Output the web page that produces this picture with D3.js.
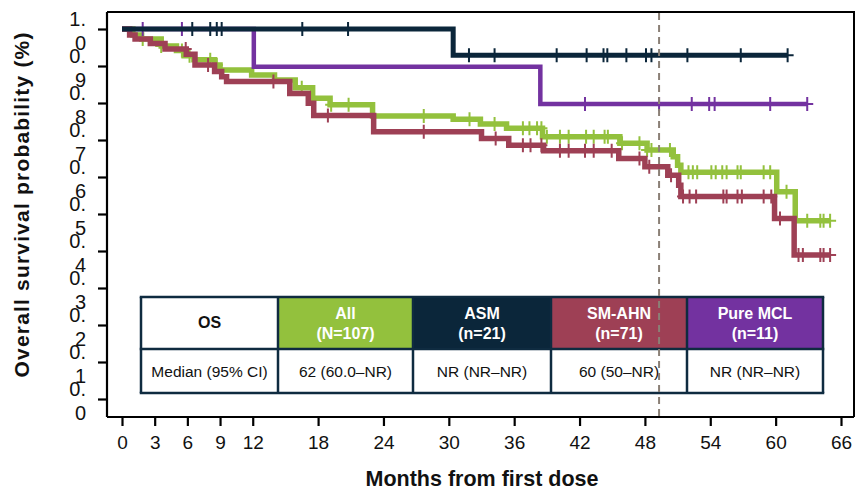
<!DOCTYPE html>
<html><head><meta charset="utf-8">
<script src="https://cdn.jsdelivr.net/npm/d3@7"></script>
<style>body{margin:0;background:#fff}svg{display:block;font-family:"Liberation Sans",Arial,sans-serif}</style>
</head><body><svg id="c" width="857" height="490"></svg>
<script>
// ---- data ----
const xTicks = [0,3,6,9,12,18,24,30,36,42,48,54,60,66];
const yTicks = [0,0.1,0.2,0.3,0.4,0.5,0.6,0.7,0.8,0.9,1.0];
const yTickLabels = ["0.0","0.1","0.2","0.3","0.4","0.5","0.6","0.7","0.8","0.9","1.0"];
const cutoffMonth = 49.3;

const allTimes = [0,1.0,1.8,3.6,5.0,5.7,6.6,8.5,9.0,11.9,14.0,15.9,17.5,19.1,23.0,30.4,32.9,35.3,38.6,45.7,48.2,50.6,51.0,51.3,60.1,61.8];
const allSurv  = [1.0,0.984,0.973,0.954,0.942,0.928,0.917,0.903,0.889,0.876,0.862,0.841,0.813,0.795,0.765,0.756,0.743,0.732,0.709,0.691,0.673,0.655,0.632,0.613,0.560,0.482];
const allEnd = 65.0;
const allCensor = [1.9,3.6,5.5,6.2,8.1,8.7,16.5,19.2,20.8,27.7,31.9,34.2,36.8,37.4,38.1,38.5,39.0,40.2,41.0,42.6,43.3,44.3,44.6,45.9,47.5,48.2,48.6,50.3,52.0,52.4,52.8,54.1,54.5,55.1,55.5,56.5,56.8,58.9,59.5,61.0,62.9,64.1,64.4,65.0];

const ahnTimes = [0,0.7,1.2,2.6,3.95,5.9,6.7,8.5,9.15,9.6,15.4,17.1,17.6,23.1,33.0,35.5,38.7,45.6,48.0,50.1,51.1,51.3,59.9,61.7];
const ahnSurv  = [1.0,0.984,0.973,0.961,0.946,0.932,0.903,0.885,0.871,0.858,0.826,0.799,0.766,0.722,0.704,0.686,0.671,0.650,0.628,0.605,0.578,0.547,0.488,0.389];
const ahnEnd = 65.0;
const ahnCensor = [5.85,7.9,13.9,18.9,27.7,34.3,36.8,37.5,38.5,40.2,41.0,42.5,43.3,44.95,47.5,48.4,50.4,51.5,52.1,52.7,55.2,55.5,56.5,56.9,58.9,59.6,60.4,62.1,62.5,64.1,64.4,65.0];

const mclTimes = [0,12.1,38.4];
const mclSurv  = [1.0,0.898,0.797];
const mclEnd = 62.9;
const mclCensor = [1.9,5.5,42.5,49.3,52.3,53.9,54.4,59.5,62.9];

const asmTimes = [0,30.4];
const asmSurv  = [1.0,0.929];
const asmEnd = 61.1;
const asmCensor = [6.45,8.1,8.7,9.15,16.55,20.75,31.85,34.2,39.9,42.65,44.2,44.55,46.3,48.1,48.6,51.9,56.8,61.1];

const tableHeader = [["OS"],["All","(N=107)"],["ASM","(n=21)"],["SM-AHN","(n=71)"],["Pure MCL","(n=11)"]];
const tableRow = ["Median (95% CI)","62 (60.0\u2013NR)","NR (NR\u2013NR)","60 (50\u2013NR)","NR (NR\u2013NR)"];

// ---- styles ----
const C = {all:"#93c13d", asm:"#0b263a", ahn:"#9e4055", mcl:"#7332a0", dash:"#8b8076", border:"#0f2b40"};

const svg = d3.select("#c");
const x = d3.scaleLinear().domain([0,66]).range([122,841]);
const y = d3.scaleLinear().domain([0,1]).range([399,29]);
const pL=107, pR=854, pT=12, pB=417;

// frame
svg.append("path").attr("d",`M${pL},${pT}H${pR}V${pB}`).attr("fill","none").attr("stroke","#000").attr("stroke-width",2);

// x axis
const xAxis = d3.axisBottom(x).tickValues(xTicks).tickSize(9).tickSizeOuter(0).tickPadding(10);
const gx = svg.append("g").attr("transform",`translate(0,${pB})`).call(xAxis);
gx.select(".domain").attr("d",`M${pL},0H${pR}`).attr("stroke","#000").attr("stroke-width",2.2);
gx.selectAll(".tick line").attr("stroke","#000").attr("stroke-width",2.2);
gx.selectAll(".tick text").attr("font-size",19).attr("fill","#111").attr("font-family","Liberation Sans, Arial, sans-serif");

// y axis
const yAxis = d3.axisLeft(y).tickValues(yTicks).tickSize(9).tickSizeOuter(0).tickFormat(()=>"");
const gy = svg.append("g").attr("transform",`translate(${pL},0)`).call(yAxis);
gy.select(".domain").attr("d",`M0,${pT}V${pB}`).attr("stroke","#000").attr("stroke-width",2.2);
gy.selectAll(".tick line").attr("stroke","#000").attr("stroke-width",2.2);
gy.selectAll(".tick text").remove();
// wrapped y tick labels (label wraps after the decimal point, as in the reference)
gy.selectAll(".tick").each(function(d,i){
  const lab = yTickLabels[i];
  const k = lab.indexOf(".");
  const t = d3.select(this).append("text").attr("text-anchor","end").attr("fill","#111")
    .attr("font-size",20).attr("font-family","Liberation Sans, Arial, sans-serif");
  t.append("tspan").attr("x",-21).attr("y",-4).text(lab.slice(0,k+1));
  t.append("tspan").attr("x",-21).attr("y",20).text(lab.slice(k+1));
});

// titles
svg.append("text").attr("x",482).attr("y",486).attr("text-anchor","middle")
  .attr("font-weight","bold").attr("font-size",21.5).attr("fill","#111").text("Months from first dose");
svg.append("text").attr("transform","translate(29,205) rotate(-90)").attr("text-anchor","middle")
  .attr("font-weight","bold").attr("font-size",21).attr("fill","#111")
  .attr("textLength",345).attr("lengthAdjust","spacing").text("Overall survival probability (%)");

// KM curves
function stepPath(times, surv, end){
  const pts = [];
  times.forEach((t,i)=>{ if(i>0) pts.push([t, surv[i-1]]); pts.push([t, surv[i]]); });
  pts.push([end, surv[surv.length-1]]);
  return d3.line().x(d=>x(d[0])).y(d=>y(d[1]))(pts);
}
function survAt(times, surv, t){
  let v = surv[0];
  for(let i=0;i<times.length;i++){ if(times[i]<=t) v = surv[i]; }
  return v;
}
function drawSeries(times, surv, end, censor, color, w){
  const g = svg.append("g");
  g.append("path").attr("d",stepPath(times,surv,end)).attr("fill","none").attr("stroke",color).attr("stroke-width",w);
  g.selectAll("path.c").data(censor).enter().append("path").attr("class","c")
    .attr("d",t=>{const cx=x(t), cy=y(survAt(times,surv,t)); return `M${cx},${cy-7}V${cy+7}M${cx-6},${cy}H${cx+6}`;})
    .attr("stroke",color).attr("stroke-width",2).attr("fill","none");
}
drawSeries(allTimes, allSurv, allEnd, allCensor, C.all, 5.5);
drawSeries(ahnTimes, ahnSurv, ahnEnd, ahnCensor, C.ahn, 5.5);
drawSeries(mclTimes, mclSurv, mclEnd, mclCensor, C.mcl, 4.5);
drawSeries(asmTimes, asmSurv, asmEnd, asmCensor, C.asm, 5);

// table
const colX = [141,278,413,551,687,823];
const rowY = [297,349,393];
const fills = ["#fff", C.all, C.asm, C.ahn, C.mcl];
const tg = svg.append("g");
fills.forEach((f,i)=>{
  tg.append("rect").attr("x",colX[i]).attr("y",rowY[0]).attr("width",colX[i+1]-colX[i]).attr("height",rowY[1]-rowY[0]).attr("fill",f);
  tg.append("rect").attr("x",colX[i]).attr("y",rowY[1]).attr("width",colX[i+1]-colX[i]).attr("height",rowY[2]-rowY[1]).attr("fill","#fff");
});
colX.forEach(cx=>tg.append("line").attr("x1",cx).attr("x2",cx).attr("y1",rowY[0]).attr("y2",rowY[2]).attr("stroke",C.border).attr("stroke-width",2.5));
rowY.forEach(ry=>tg.append("line").attr("x1",colX[0]-1.25).attr("x2",colX[5]+1.25).attr("y1",ry).attr("y2",ry).attr("stroke",C.border).attr("stroke-width",2.5));
tableHeader.forEach((lines,i)=>{
  const cx=(colX[i]+colX[i+1])/2;
  const t = tg.append("text").attr("text-anchor","middle").attr("font-weight","bold")
    .attr("font-size",16).attr("fill", i===0?"#111":"#fff");
  if(lines.length===1){ t.append("tspan").attr("x",cx).attr("y",328).text(lines[0]); }
  else { lines.forEach((s,j)=>t.append("tspan").attr("x",cx).attr("y",319+j*20).text(s)); }
});
tableRow.forEach((s,i)=>{
  tg.append("text").attr("x",(colX[i]+colX[i+1])/2).attr("y",377).attr("text-anchor","middle")
    .attr("font-size",15.5).attr("fill","#111").text(s);
});

// cutoff dashed line
svg.append("line").attr("x1",x(cutoffMonth)).attr("x2",x(cutoffMonth)).attr("y1",pT+1).attr("y2",pB-1)
  .attr("stroke",C.dash).attr("stroke-width",2).attr("stroke-dasharray","7,5");
</script></body></html>
